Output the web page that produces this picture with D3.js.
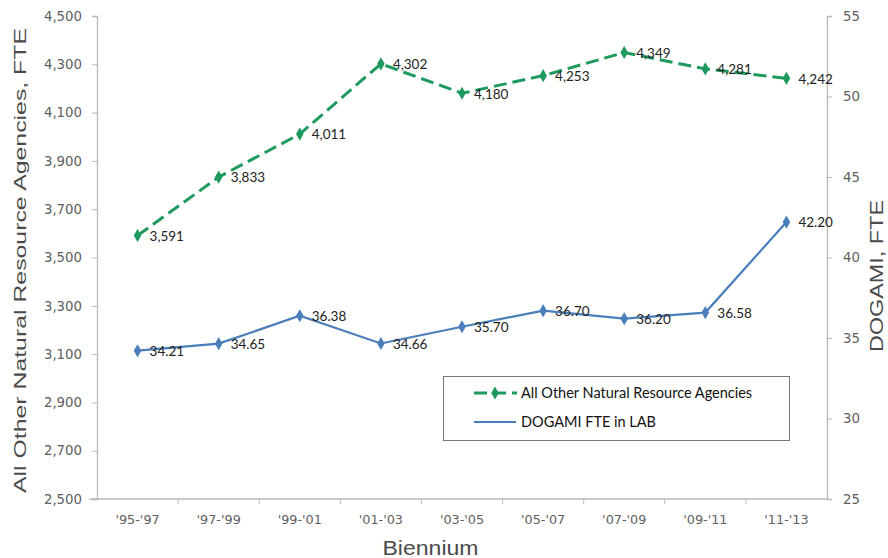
<!DOCTYPE html>
<html><head><meta charset="utf-8">
<script src="https://cdn.jsdelivr.net/npm/d3@7"></script>
<style>body{margin:0;background:#fff}svg{display:block}</style>
</head><body>
<svg id="c" width="888" height="558"></svg>
<script>
const categories = ["'95-'97","'97-'99","'99-'01","'01-'03","'03-'05","'05-'07","'07-'09","'09-'11","'11-'13"];
const otherAgencies = [3591,3833,4011,4302,4180,4253,4349,4281,4242];
const dogami = [34.21,34.65,36.38,34.66,35.70,36.70,36.20,36.58,42.20];
const leftTicks = [2500,2700,2900,3100,3300,3500,3700,3900,4100,4300,4500];
const rightTicks = [25,30,35,40,45,50,55];
const seriesNames = ["All Other Natural Resource Agencies","DOGAMI FTE in LAB"];

const svg = d3.select("#c");
const L = 97, R = 827, T = 16, B = 499;
const green = "#1f9a5e", blue = "#4a7ebb", axisCol = "#b8b8b8", tickTxt = "#606060";

const x = d3.scaleBand().domain(categories).range([L, R]);
const cx = d => x(d) + x.bandwidth()/2;
const yL = d3.scaleLinear().domain([2500,4500]).range([B, T]);
const yR = d3.scaleLinear().domain([25,55]).range([B, T]);

const fmt = d3.format(",");
const gL = svg.append("g").attr("transform",`translate(${L},0)`)
  .call(d3.axisLeft(yL).tickValues(leftTicks).tickFormat(fmt).tickSize(5).tickPadding(10));
const gR = svg.append("g").attr("transform",`translate(${R},0)`)
  .call(d3.axisRight(yR).tickValues(rightTicks).tickSize(5).tickPadding(11));
const gB = svg.append("g").attr("transform",`translate(0,${B})`)
  .call(d3.axisBottom(x).tickSize(0).tickPadding(16));
gB.selectAll(".bt").data(categories.slice(1)).enter().append("line")
  .attr("x1", d => x(d)).attr("x2", d => x(d)).attr("y1",0).attr("y2",5)
  .attr("stroke", axisCol);
[gL,gR,gB].forEach(g=>{
  g.selectAll(".domain").attr("stroke",axisCol).attr("stroke-width",1.3);
  g.selectAll(".tick line").attr("stroke",axisCol);
  g.selectAll("text").attr("fill",tickTxt).style("font-family","'DejaVu Sans',sans-serif").style("font-size","13.3px");
});
gB.selectAll("text").style("font-size","12.8px");
gB.select(".domain").attr("d",`M${L-8},0H${R}`);

const lineL = d3.line().x((d,i)=>cx(categories[i])).y(d=>yL(d));
const lineR = d3.line().x((d,i)=>cx(categories[i])).y(d=>yR(d));
svg.append("path").datum(dogami).attr("d",lineR).attr("fill","none").attr("stroke",blue).attr("stroke-width",2.2);
svg.append("path").datum(otherAgencies).attr("d",lineL).attr("fill","none").attr("stroke",green).attr("stroke-width",3).attr("stroke-dasharray","13,6");

const diamond = d3.symbol().type(d3.symbolDiamond).size(50);
svg.selectAll(".mg").data(otherAgencies).enter().append("path")
  .attr("d",diamond).attr("transform",(d,i)=>`translate(${cx(categories[i])},${yL(d)})`).attr("fill",green);
svg.selectAll(".mb").data(dogami).enter().append("path")
  .attr("d",diamond).attr("transform",(d,i)=>`translate(${cx(categories[i])},${yR(d)})`).attr("fill",blue);

const lblFont = "Lato, 'Open Sans', sans-serif";
svg.selectAll(".lg").data(otherAgencies).enter().append("text")
  .attr("x",(d,i)=>cx(categories[i])+12).attr("y",d=>yL(d)).attr("dy","0.4em")
  .style("font-family",lblFont).style("font-size","13.5px").attr("fill","#222").text(d=>fmt(d));
svg.selectAll(".lb").data(dogami).enter().append("text")
  .attr("x",(d,i)=>cx(categories[i])+12).attr("y",d=>yR(d)).attr("dy","0.4em")
  .style("font-family",lblFont).style("font-size","13.5px").attr("fill","#222").text(d=>d.toFixed(2));

const titleFont = "'Liberation Sans', Arial, sans-serif";
const titleCol = "#4a4a4a";
svg.append("text").attr("transform",`translate(25.5,260.5) rotate(-90)`).attr("text-anchor","middle")
  .attr("textLength",465).attr("lengthAdjust","spacingAndGlyphs")
  .style("font-family",titleFont).style("font-size","16.8px").attr("fill",titleCol).text("All Other Natural Resource Agencies, FTE");
svg.append("text").attr("transform",`translate(883,276) rotate(-90)`).attr("text-anchor","middle")
  .attr("textLength",152).attr("lengthAdjust","spacingAndGlyphs")
  .style("font-family",titleFont).style("font-size","18px").attr("fill",titleCol).text("DOGAMI, FTE");
svg.append("text").attr("x",430.5).attr("y",555).attr("text-anchor","middle")
  .attr("textLength",96).attr("lengthAdjust","spacingAndGlyphs")
  .style("font-family",titleFont).style("font-size","19.5px").attr("fill",titleCol).text("Biennium");

const lg = svg.append("g");
lg.append("rect").attr("x",443.5).attr("y",376.5).attr("width",346).attr("height",64)
  .attr("fill","#fff").attr("stroke","#777").attr("stroke-width",1);
lg.append("line").attr("x1",474).attr("x2",517).attr("y1",393).attr("y2",393)
  .attr("stroke",green).attr("stroke-width",3).attr("stroke-dasharray","13,6");
lg.append("path").attr("d",diamond).attr("transform","translate(495,393)").attr("fill",green);
lg.append("line").attr("x1",474).attr("x2",516).attr("y1",422).attr("y2",422)
  .attr("stroke",blue).attr("stroke-width",2.2);
seriesNames.forEach((n,i)=>{
  lg.append("text").attr("x",521).attr("y",393+29*i).attr("dy","0.35em")
    .style("font-family",lblFont).style("font-size","14.5px").attr("fill","#111").text(n);
});
</script>
</body></html>
